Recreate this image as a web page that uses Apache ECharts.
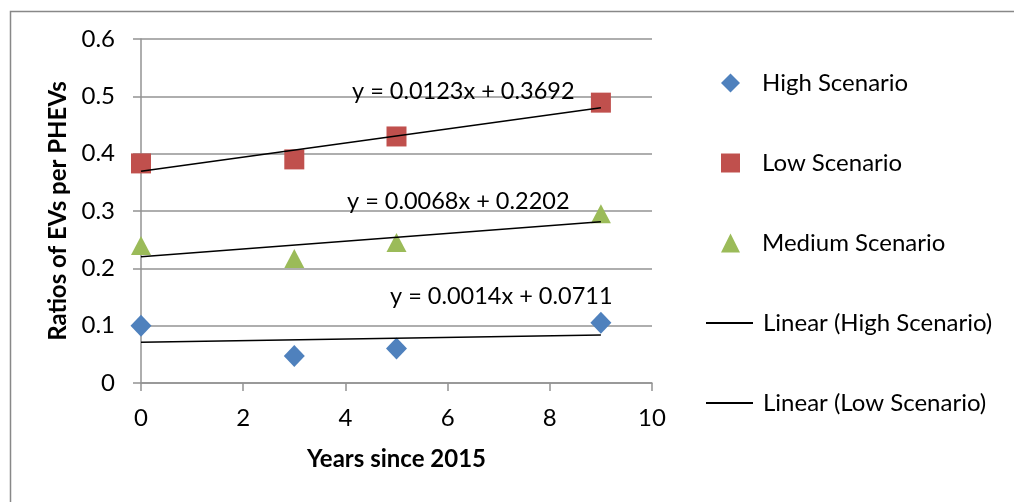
<!DOCTYPE html>
<html><head><meta charset="utf-8">
<script src="https://cdn.jsdelivr.net/npm/echarts@6/dist/echarts.min.js"></script>
<style>html,body{margin:0;padding:0;background:#fff}#c{width:1014px;height:502px}</style>
</head><body><div id="c"></div>
<script>
const years = [0, 3, 5, 9];
const highScenario = [0.1, 0.047, 0.06, 0.105];
const lowScenario = [0.383, 0.39, 0.43, 0.489];
const mediumScenario = [0.24, 0.217, 0.245, 0.295];
// trendline equations as printed on the chart
const trendNames = ['Linear (High Scenario)', 'Linear (Low Scenario)', 'Linear (Medium Scenario)'];
const trendSlope = [0.0014, 0.0123, 0.0068];
const trendIntercept = [0.0711, 0.3692, 0.2202];
const trendLabel = ['y = 0.0014x + 0.0711', 'y = 0.0123x + 0.3692', 'y = 0.0068x + 0.2202'];
const trendRange = [0, 9];

const FONT = 'Lato';
const chart = echarts.init(document.getElementById('c'), null, {renderer: 'canvas'});
const pts = arr => years.map((x, i) => [x, arr[i]]);
const trend = i => trendRange.map(x => [x, trendIntercept[i] + trendSlope[i] * x]);
const gridColor = '#939393';

const option = {
  backgroundColor: '#fff',
  animation: false,
  textStyle: {fontFamily: FONT, color: '#000'},
  grid: {left: 141, right: 362, top: 39, bottom: 119, containLabel: false},
  xAxis: {
    type: 'value', min: 0, max: 10, interval: 2,
    name: 'Years since 2015', nameLocation: 'middle', nameGap: 64,
    nameTextStyle: {fontFamily: FONT, fontWeight: 'bold', fontSize: 24, color: '#000'},
    axisLine: {show: true, onZero: false, lineStyle: {color: gridColor, width: 1.5}},
    axisTick: {show: true, length: 8, lineStyle: {color: gridColor, width: 1.5}},
    axisLabel: {fontFamily: FONT, fontSize: 24, color: '#000', margin: 23},
    splitLine: {show: false}
  },
  yAxis: {
    type: 'value', min: 0, max: 0.6, interval: 0.1,
    name: 'Ratios of EVs per PHEVs', nameLocation: 'middle', nameGap: 70,
    nameTextStyle: {fontFamily: FONT, fontWeight: 'bold', fontSize: 24, color: '#000'},
    axisLine: {show: true, onZero: false, lineStyle: {color: gridColor, width: 1.5}},
    axisTick: {show: true, length: 8, lineStyle: {color: gridColor, width: 1.5}},
    axisLabel: {fontFamily: FONT, fontSize: 24, color: '#000', margin: 26,
      formatter: v => (Math.round(v * 10) / 10).toString()},
    splitLine: {show: true, lineStyle: {color: gridColor, width: 1.5}}
  },
  legend: [
    {
      orient: 'vertical', left: 716, top: 66, itemWidth: 19, itemHeight: 19, itemGap: 56,
      textStyle: {fontFamily: FONT, fontSize: 24, color: '#000', padding: [0, 0, 0, 17]},
      data: ['High Scenario', 'Low Scenario', 'Medium Scenario']
    },
    {
      orient: 'vertical', left: 700, top: 306, itemWidth: 47, itemHeight: 17, itemGap: 56,
      itemStyle: {opacity: 0},
      textStyle: {fontFamily: FONT, fontSize: 24, color: '#000', padding: [0, 0, 0, 5]},
      data: ['Linear (High Scenario)', 'Linear (Low Scenario)']
    }
  ],
  series: [
    {name: trendNames[0], type: 'line', data: trend(0), symbol: 'none', silent: true,
     lineStyle: {color: '#000', width: 1.5}, itemStyle: {color: '#000'}, z: 3},
    {name: trendNames[1], type: 'line', data: trend(1), symbol: 'none', silent: true,
     lineStyle: {color: '#000', width: 1.5}, itemStyle: {color: '#000'}, z: 3},
    {name: trendNames[2], type: 'line', data: trend(2), symbol: 'none', silent: true,
     lineStyle: {color: '#000', width: 1.5}, itemStyle: {color: '#000'}, z: 3},
    {name: 'High Scenario', type: 'scatter', data: pts(highScenario), symbol: 'diamond',
     symbolSize: [21, 22], itemStyle: {color: '#4F81BD', opacity: 1}, z: 2},
    {name: 'Low Scenario', type: 'scatter', data: pts(lowScenario), symbol: 'rect',
     symbolSize: 20, itemStyle: {color: '#C0504D', opacity: 1}, z: 2},
    {name: 'Medium Scenario', type: 'scatter', data: pts(mediumScenario), symbol: 'triangle',
     symbolSize: [20, 19], itemStyle: {color: '#9BBB59', opacity: 1}, z: 2}
  ],
  graphic: [
    {type: 'rect', left: 8, top: 9, z: -10, silent: true,
     shape: {width: 1020, height: 520},
     style: {fill: 'none', stroke: '#888', lineWidth: 1.5}},
    {type: 'text', left: 352, top: 79, z: 10,
     style: {text: trendLabel[1], font: '23.5px ' + FONT, fill: '#000'}},
    {type: 'text', left: 347, top: 189, z: 10,
     style: {text: trendLabel[2], font: '23.5px ' + FONT, fill: '#000'}},
    {type: 'text', left: 390, top: 284, z: 10,
     style: {text: trendLabel[0], font: '23.5px ' + FONT, fill: '#000'}}
  ]
};
chart.setOption(option);
</script></body></html>
